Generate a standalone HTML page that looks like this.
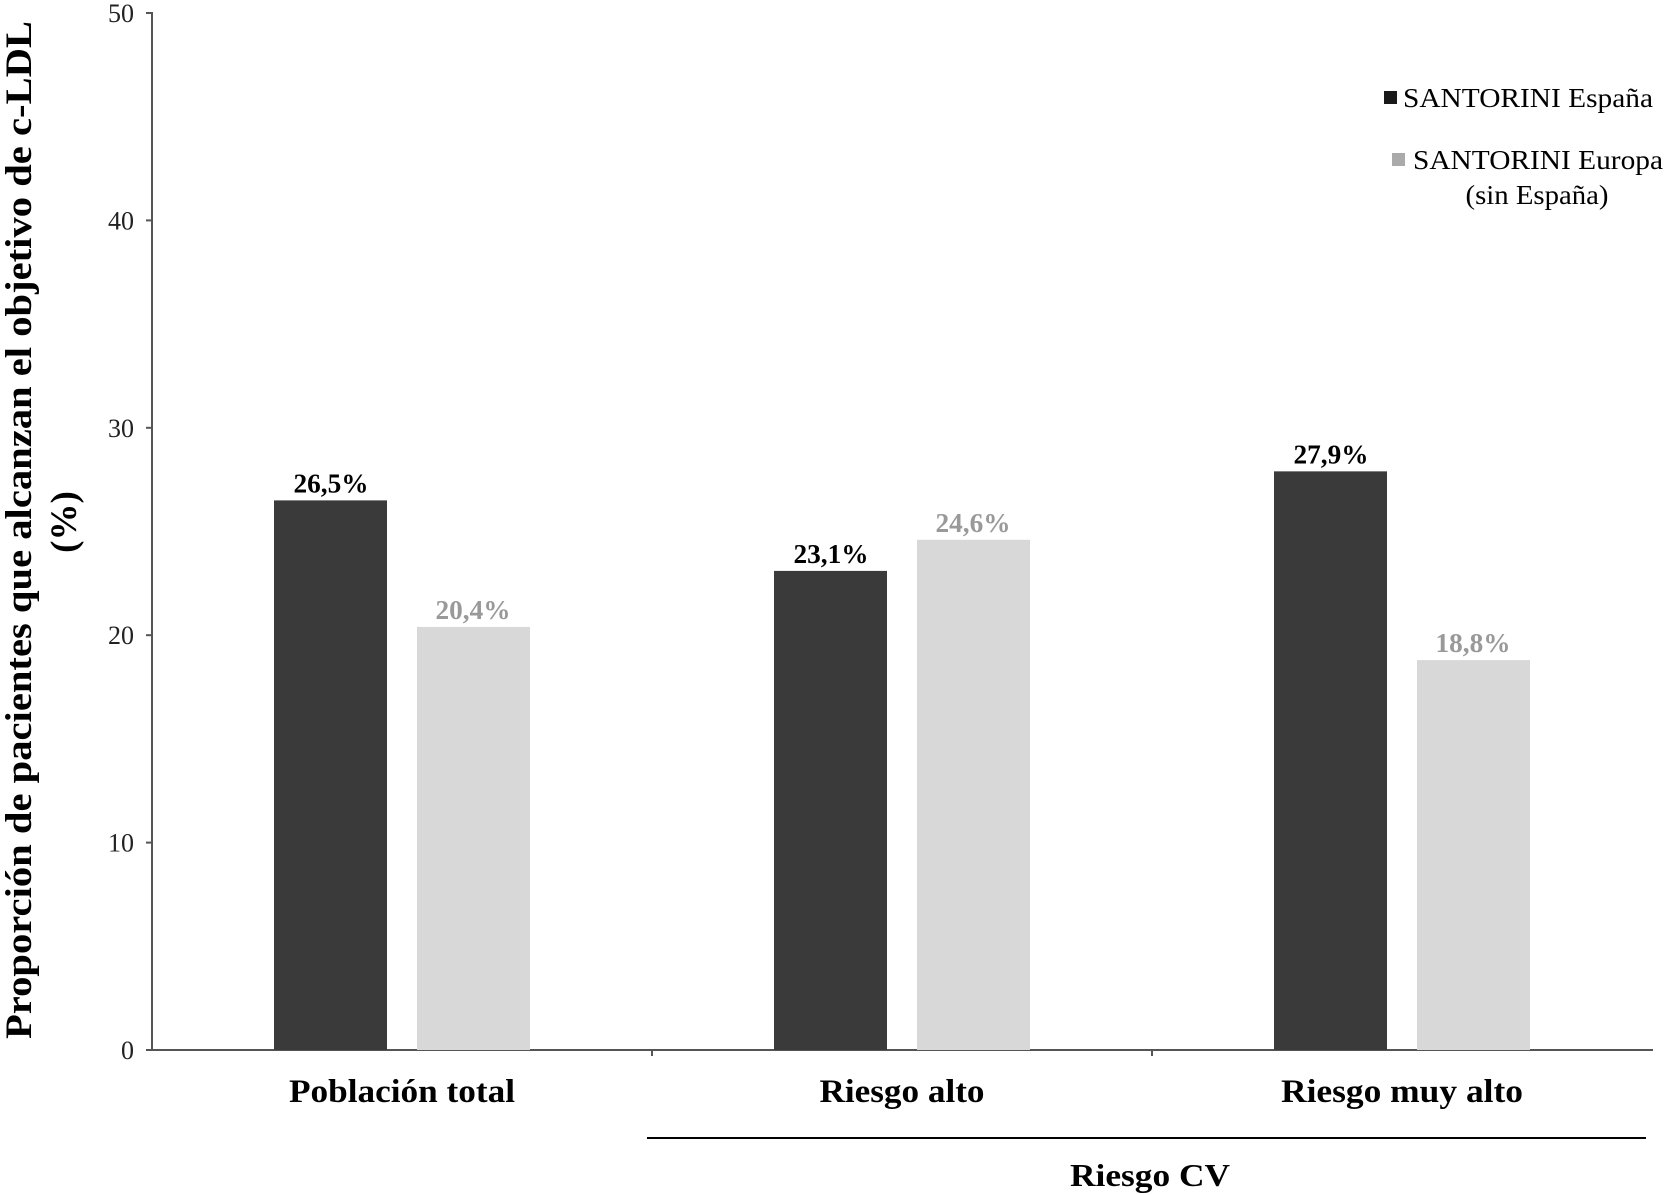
<!DOCTYPE html>
<html><head><meta charset="utf-8"><style>
body{margin:0;background:#fff}
svg{display:block;font-family:"Liberation Serif",serif}
</style></head><body>
<svg id="chart" width="1668" height="1195">
<line x1="152" y1="12" x2="152" y2="1050" stroke="#555" stroke-width="2"/>
<line x1="150" y1="1050" x2="1653" y2="1050" stroke="#555" stroke-width="2"/>
<g id="yticks"></g>
<g id="bars"></g>
<text transform="translate(31,530) rotate(-90)" text-anchor="middle" font-weight="bold" font-size="37" textLength="1018" lengthAdjust="spacingAndGlyphs">Proporción de pacientes que alcanzan el objetivo de c-LDL</text>
<text transform="translate(76,522) rotate(-90)" text-anchor="middle" font-weight="bold" font-size="37">(%)</text>
<line x1="647" y1="1138" x2="1646" y2="1138" stroke="#000" stroke-width="2"/>
<text x="1150" y="1186" text-anchor="middle" font-weight="bold" font-size="32" textLength="160" lengthAdjust="spacingAndGlyphs">Riesgo CV</text>
<g>
<rect x="1384" y="91" width="13" height="13" fill="#1a1a1a"/>
<text x="1403" y="107" font-size="27" textLength="250" lengthAdjust="spacingAndGlyphs">SANTORINI España</text>
<rect x="1392" y="153" width="13" height="13" fill="#aaa"/>
<text x="1413" y="169" font-size="27" textLength="250" lengthAdjust="spacingAndGlyphs">SANTORINI Europa</text>
<text x="1537" y="204" text-anchor="middle" font-size="27" textLength="143" lengthAdjust="spacingAndGlyphs">(sin España)</text>
</g>
</svg>
<script>
const categories=["Población total","Riesgo alto","Riesgo muy alto"];
const espana=[26.5,23.1,27.9];
const europa=[20.4,24.6,18.8];
const yTicks=[0,10,20,30,40,50];
const espanaLabels=["26,5%","23,1%","27,9%"];
const europaLabels=["20,4%","24,6%","18,8%"];
const catLens=[226,165,242];
const NS="http://www.w3.org/2000/svg";
const x0=152,catW=500,y0=1050,yTop=13;
function y(v){return y0-(v/50)*(y0-yTop);}
function mk(tag,attrs,parent){const e=document.createElementNS(NS,tag);for(const k in attrs)e.setAttribute(k,attrs[k]);parent.appendChild(e);return e;}
const yt=document.getElementById('yticks');
yTicks.forEach(t=>{
  const l=mk('line',{x1:146,x2:152,y1:y(t),y2:y(t),stroke:'#555','stroke-width':2},yt);
  
  
  const tx=mk('text',{x:134,y:y(t)+9,'text-anchor':'end','font-size':26,fill:'#222'},yt);
  tx.textContent=t;
  
  
});
const bg=document.getElementById('bars');
categories.forEach((c,i)=>{
  const cx=x0+catW*(i+0.5);
  if(i>0){const d=mk('line',{x1:x0+catW*i,x2:x0+catW*i,y1:y0,y2:y0+6,stroke:'#555','stroke-width':2},bg);
    
    }
  const b1=mk('rect',{x:cx-128,y:y(espana[i]),width:113,height:y0-y(espana[i]),fill:'#3a3a3a'},bg);
  
  
  const b2=mk('rect',{x:cx+15,y:y(europa[i]),width:113,height:y0-y(europa[i]),fill:'#d8d8d8'},bg);
  
  
  const l1=mk('text',{x:cx-71,y:y(espana[i])-8,'text-anchor':'middle','font-size':27,'font-weight':'bold',fill:'#000',textLength:75,lengthAdjust:'spacingAndGlyphs'},bg);
  l1.textContent=espanaLabels[i];
  
  
  const l2=mk('text',{x:cx+71,y:y(europa[i])-8,'text-anchor':'middle','font-size':27,'font-weight':'bold',fill:'#999',textLength:75,lengthAdjust:'spacingAndGlyphs'},bg);
  l2.textContent=europaLabels[i];
  
  
  const cl=mk('text',{x:cx,y:1102,'text-anchor':'middle','font-size':33,'font-weight':'bold',textLength:catLens[i],lengthAdjust:'spacingAndGlyphs'},bg);
  cl.textContent=c;
  
  
});
</script>
</body></html>
